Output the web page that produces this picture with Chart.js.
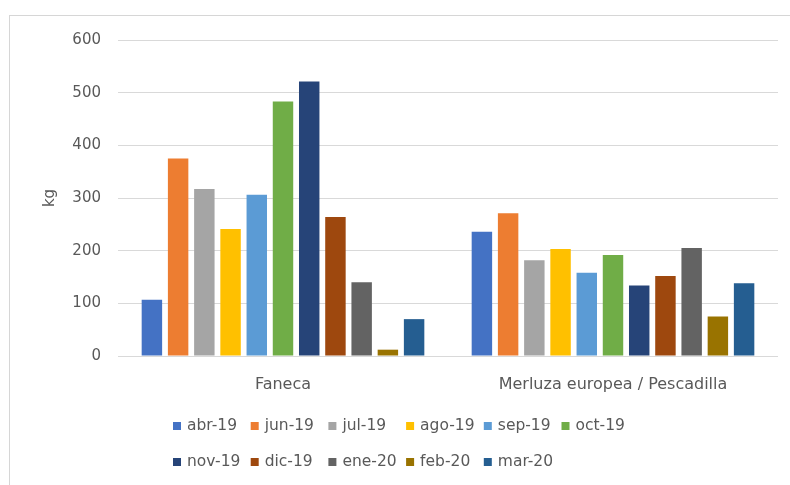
<!DOCTYPE html>
<html><head><meta charset="utf-8">
<script src="https://cdn.jsdelivr.net/npm/chart.js@4"></script>
<style>
html,body{margin:0;padding:0;background:#fff;}
#wrap{position:relative;width:790px;height:485px;overflow:hidden;background:#fff;}
#frame{position:absolute;left:9px;top:15px;width:800px;height:500px;border-left:1px solid #d6d6d6;border-top:1px solid #d6d6d6;}
canvas{position:absolute;left:0;top:0;}
</style></head><body>
<div id="wrap"><div id="frame"></div><canvas id="c" width="790" height="485"></canvas></div>
<script>
const categories = ['Faneca', 'Merluza europea / Pescadilla'];
const months = ['abr-19','jun-19','jul-19','ago-19','sep-19','oct-19','nov-19','dic-19','ene-20','feb-20','mar-20'];
const faneca  = [107, 375, 317, 241, 306, 483, 521, 264, 140, 12, 70];
const merluza = [236, 271, 182, 203, 158, 192, 134, 152, 205, 75, 138];
const colors = ['#4472C4','#ED7D31','#A5A5A5','#FFC000','#5B9BD5','#70AD47','#264478','#9E480E','#636363','#997300','#255E91'];
const yAxisTitle = 'kg';

const FONT = "'DejaVu Sans', sans-serif";
const TEXT = '#595959';

const legendPlugin = {
  id: 'gridLegend',
  afterDraw(chart) {
    const ctx = chart.ctx;
    const area = chart.chartArea;
    const x0 = area.left + 55, y0 = area.bottom + 70;
    const colW = 77.7, rowH = 36, perRow = 6;
    ctx.save();
    ctx.font = '15.5px ' + FONT;
    ctx.textBaseline = 'middle';
    ctx.textAlign = 'left';
    chart.data.datasets.forEach((ds, i) => {
      const row = Math.floor(i / perRow), col = i % perRow;
      const x = x0 + col * colW, y = y0 + row * rowH;
      ctx.fillStyle = ds.backgroundColor;
      ctx.fillRect(x, y - 4, 8, 8);
      ctx.fillStyle = TEXT;
      ctx.fillText(ds.label, x + 14, y);
    });
    ctx.restore();
  }
};

new Chart(document.getElementById('c'), {
  type: 'bar',
  data: {
    labels: categories,
    datasets: months.map((m, i) => ({
      label: m,
      data: [faneca[i], merluza[i]],
      backgroundColor: colors[i],
      borderWidth: 0,
      categoryPercentage: 0.874,
      barPercentage: 0.78
    }))
  },
  options: {
    responsive: false,
    animation: false,
    devicePixelRatio: 1,
    layout: { padding: { left: 0, right: 12, top: 40, bottom: 81 } },
    plugins: {
      legend: { display: false },
      tooltip: { enabled: false }
    },
    scales: {
      x: {
        grid: { display: false },
        border: { display: false },
        ticks: { color: TEXT, font: { family: FONT, size: 16 }, padding: 11, maxRotation: 0 },
        afterFit(s) { s.height = 48; }
      },
      y: {
        min: 0, max: 600,
        grid: { color: '#d9d9d9', lineWidth: 1, drawTicks: false },
        border: { display: false },
        ticks: { stepSize: 100, color: TEXT, font: { family: FONT, size: 15 }, padding: 17 },
        title: { display: true, text: yAxisTitle, color: TEXT, font: { family: FONT, size: 15 }, padding: { top: 41, bottom: 0 } },
        afterFit(s) { s.width = 118; }
      }
    }
  },
  plugins: [legendPlugin]
});
</script>
</body></html>
